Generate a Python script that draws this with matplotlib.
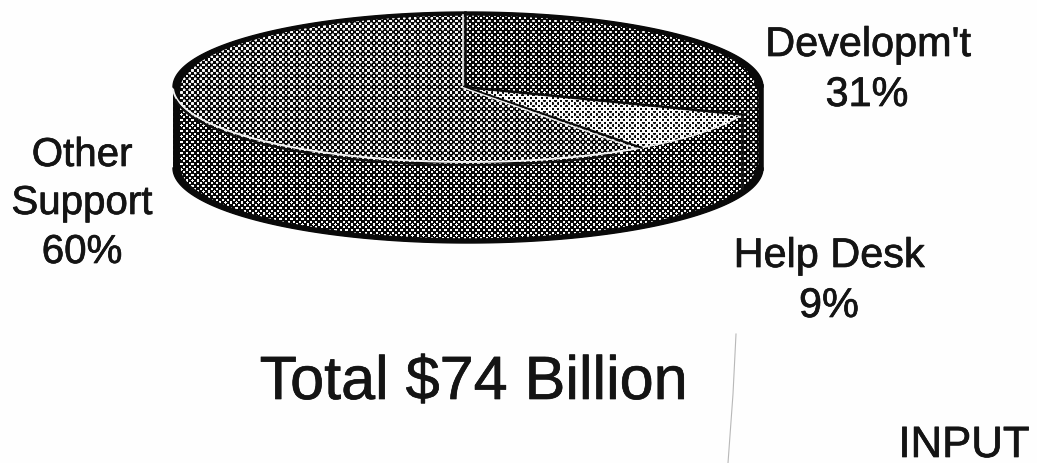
import numpy as np
import matplotlib
matplotlib.use("Agg")
import matplotlib.pyplot as plt
import matplotlib.patheffects as pe
from matplotlib.patches import Polygon

names = ["Developm't", "Help Desk", "Other", "Support"]
shares = [31, 9, 60]
total_label = "Total $74 Billion"
corner_label = "INPUT"

W, H = 1037, 464
cx, cy, rx, ry = 468, 88, 295, 75
depth = 81

plt.rcParams["font.family"] = ["Liberation Sans", "DejaVu Sans"]


def rim(t1, t2, dy=0, n=200, a=rx, b=ry):
    # t runs clockwise from twelve o'clock, in degrees
    t = np.radians(np.linspace(t1, t2, n))
    return np.column_stack([cx + a * np.sin(t), cy + dy - b * np.cos(t)])


def dots(level, cell=2.75):
    # checker halftone: higher level means bigger white squares
    yy, xx = np.mgrid[0:H, 0:W]
    u = np.cos(np.pi * (xx + 0.5) / cell) * np.cos(np.pi * (yy + 0.5) / cell)
    v = np.clip((u - 1 + 2 * level) * 6 + 0.5, 0, 1)
    return 0.03 + 0.95 * v


def fill(ax, pts, level):
    patch = Polygon(pts, closed=True, fc="none", ec="none")
    ax.add_patch(patch)
    im = ax.imshow(dots(level), cmap="gray", vmin=0, vmax=1, extent=(0, W, H, 0),
                   interpolation="nearest", zorder=2)
    im.set_clip_path(patch)


fig = plt.figure(figsize=(W / 100, H / 100), dpi=100, facecolor="#fefefe")
ax = fig.add_axes([0, 0, 1, 1])
ax.set_xlim(0, W)
ax.set_ylim(H, 0)
ax.axis("off")

cuts = np.cumsum([0] + shares) * 3.6
tip = np.array([[cx - 3, cy]])

# side wall, only the part facing the viewer
side_angles = [(90, cuts[1], 0.33), (cuts[1], cuts[2], 0.37), (cuts[2], 270, 0.37)]
for t1, t2, lvl in side_angles:
    fill(ax, np.vstack([rim(t1, t2), rim(t1, t2, depth)[::-1]]), lvl)

# top faces
levels = [0.35, 0.62, 0.44]
for i, lvl in enumerate(levels):
    fill(ax, np.vstack([tip, rim(cuts[i], cuts[i + 1])]), lvl)

# heavy crescents around the back of the disc and under the wall
back = np.vstack([rim(-90, 90), rim(90, -90, 1, a=rx - 7, b=ry - 2)])
ax.add_patch(Polygon(back, closed=True, fc="#0a0a0a", ec="#0a0a0a", lw=1, zorder=4))
low = np.vstack([rim(90, 270, depth), rim(270, 90, depth - 1, a=rx - 7, b=ry - 3)])
ax.add_patch(Polygon(low, closed=True, fc="#0a0a0a", ec="#0a0a0a", lw=1, zorder=4))
ax.plot([cx - rx + 2.5, cx - rx + 2.5], [cy, cy + depth], color="#0a0a0a", lw=5, zorder=4)
ax.plot([cx + rx - 2, cx + rx - 2], [cy, cy + depth], color="#0a0a0a", lw=4, zorder=4)

# light seam along the front of the top face
seam = rim(cuts[2], 268)
ax.plot(seam[:, 0], seam[:, 1], color="#f2f2f2", lw=1.4, zorder=5)
seam = rim(cuts[1], cuts[2])
ax.plot(seam[:, 0], seam[:, 1], color="#f2f2f2", lw=1.0, zorder=5)
under = rim(150, 262, 3)
ax.plot(under[:, 0], under[:, 1], color="#111111", lw=1.6, zorder=5)

# slice borders
p1 = rim(cuts[1], cuts[1], n=1)[0]
p2 = rim(cuts[2], cuts[2], n=1)[0]
ax.plot([cx - 3, cx - 3], [cy, cy - ry], color="#0a0a0a", lw=1.8, zorder=5)
ax.plot([cx - 5, cx - 5], [cy - 2, cy - ry + 3], color="#e8e8e8", lw=1.2, zorder=5)
ax.plot([cx - 3, p1[0]], [cy, p1[1]], color="#0a0a0a", lw=1.8, zorder=5)
ax.plot([cx - 3, p2[0]], [cy, p2[1]], color="#0a0a0a", lw=1.5, zorder=5)
ax.plot([cx - 7, p2[0] - 5], [cy, p2[1] + 1], color="#ededed", lw=1.0, zorder=5)
ax.plot([p1[0], p1[0]], [p1[1], p1[1] + depth - 8], color="#151515", lw=2.0, zorder=5)

# labels, slightly heavier than regular weight
ink = [pe.withStroke(linewidth=0.5, foreground="#141414")]
kw = dict(ha="center", va="baseline", color="#141414", path_effects=ink)
ax.text(868, 57, names[0], fontsize=29.8, **kw)
ax.text(867, 107, f"{shares[0]}%", fontsize=29.8, **kw)
ax.text(829, 268, names[1], fontsize=29.8, **kw)
ax.text(829, 318, f"{shares[1]}%", fontsize=29.8, **kw)
ax.text(82, 167, names[2], fontsize=29, **kw)
ax.text(82, 215, names[3], fontsize=29, **kw)
ax.text(82, 264, f"{shares[2]}%", fontsize=29, **kw)
ax.text(474, 400, total_label, fontsize=44, **kw)
ax.text(964, 458, corner_label, fontsize=31.5, **kw)

# stray fold line at the bottom
ax.plot([736, 733, 728], [335, 395, 464], color="#b8b8b8", lw=0.8, zorder=1)

fig.savefig("out.png", dpi=100, facecolor=fig.get_facecolor())
